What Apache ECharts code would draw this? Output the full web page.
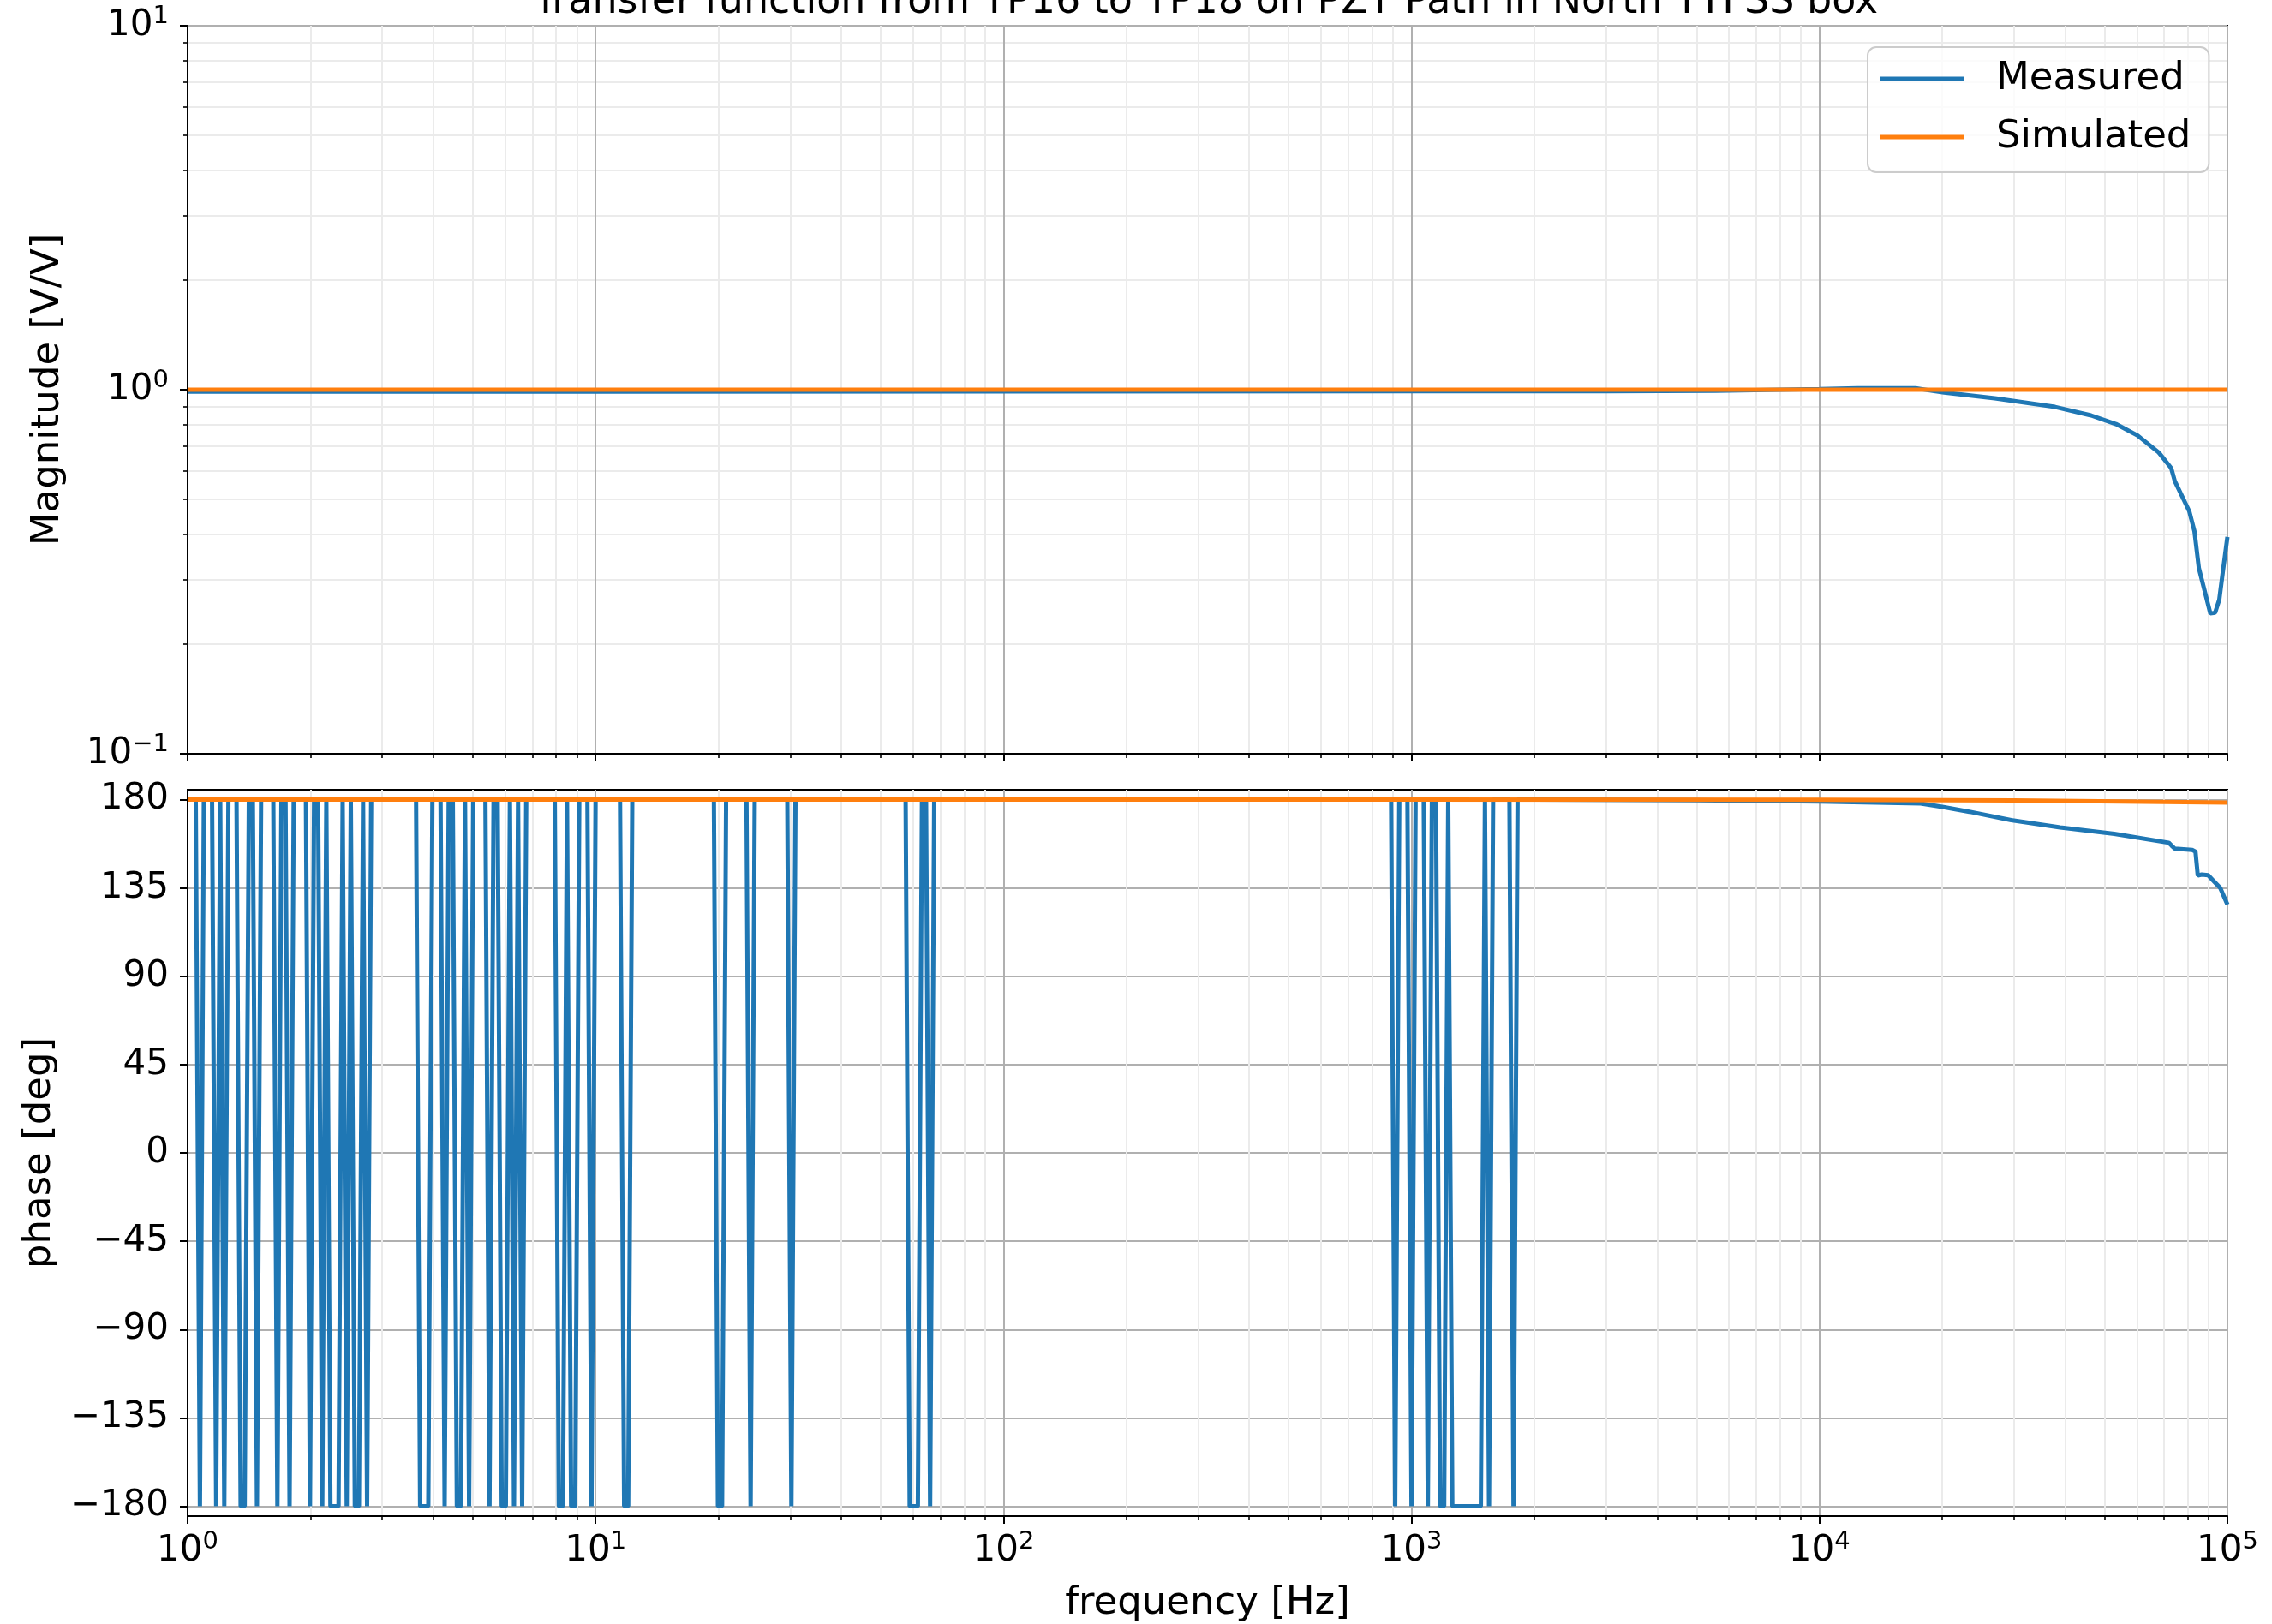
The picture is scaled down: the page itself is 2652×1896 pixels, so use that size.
<!DOCTYPE html>
<html>
<head>
<meta charset="utf-8">
<script src="https://cdn.jsdelivr.net/npm/echarts@6/dist/echarts.min.js"></script>
<style>
  html, body { margin: 0; padding: 0; background: #fff; }
  #chart { width: 2652px; height: 1896px; }
</style>
</head>
<body>
<div id="chart"></div>
<script>
// magnitude, measured
const magFreq = [1, 10, 100, 1000, 3000, 5560, 10000, 12400, 17200, 20200, 26900, 37800, 46300,
  53300, 60200, 67900, 72800, 74300, 80600, 83000, 85100, 90800, 93300, 95500, 97500, 100000];
const magMeasured = [0.988, 0.988, 0.989, 0.99, 0.991, 0.993, 1.004, 1.009, 1.009, 0.982, 0.947, 0.897, 0.85,
  0.805, 0.749, 0.672, 0.609, 0.561, 0.464, 0.409, 0.324, 0.243, 0.244, 0.265, 0.318, 0.394];
// magnitude, simulated
const magSimFreq = [1, 100000];
const magSimulated = [1, 1];

// phase, measured: sits on +180 and wraps down to -180 at these spots
// each dip = [last +180 point, first -180 point, last -180 point, next +180 point] in Hz
const phaseDips = [
  [1.047, 1.072, 1.072, 1.096], [1.148, 1.175, 1.175, 1.202], [1.202, 1.230, 1.230, 1.259],
  [1.318, 1.349, 1.380, 1.413], [1.445, 1.479, 1.479, 1.514], [1.622, 1.660, 1.660, 1.698],
  [1.738, 1.778, 1.778, 1.820], [1.950, 1.995, 1.995, 2.042], [2.089, 2.138, 2.138, 2.188],
  [2.188, 2.239, 2.344, 2.399], [2.399, 2.455, 2.455, 2.512], [2.512, 2.570, 2.630, 2.692],
  [2.692, 2.754, 2.754, 2.818], [3.631, 3.715, 3.890, 3.981], [4.169, 4.266, 4.266, 4.365],
  [4.467, 4.571, 4.677, 4.786], [4.786, 4.898, 4.898, 5.012], [5.370, 5.495, 5.495, 5.623],
  [5.754, 5.888, 6.026, 6.166], [6.166, 6.310, 6.310, 6.457], [6.457, 6.607, 6.607, 6.761],
  [7.943, 8.128, 8.318, 8.511], [8.511, 8.710, 8.913, 9.120], [9.550, 9.772, 9.772, 10.0],
  [11.48, 11.75, 12.02, 12.30], [19.50, 19.95, 20.42, 20.89], [23.44, 23.99, 23.99, 24.55],
  [29.51, 30.20, 30.20, 30.90], [57.54, 58.88, 61.66, 63.10], [64.57, 66.07, 66.07, 67.61],
  [891.3, 912.0, 912.0, 933.3], [977.2, 1000, 1000, 1023.3], [1071.5, 1096.5, 1096.5, 1122.0],
  [1148.2, 1174.9, 1202.3, 1230.3], [1230.3, 1258.9, 1479.1, 1513.6], [1513.6, 1548.8, 1548.8, 1584.9],
  [1737.8, 1778.3, 1778.3, 1819.7]
];
// high frequency roll-off of the measured phase
const phaseTailFreq = [2000, 5000, 10000, 17700, 20000, 23300, 29500, 38900, 52800, 71800, 73000,
  74300, 82000, 83500, 84600, 86500, 89700, 93000, 96000, 100000];
const phaseTailDeg = [180, 179.7, 179, 178, 176.3, 173.8, 169.5, 165.8, 162.5, 158, 156.5,
  155, 154.3, 153.5, 141.3, 141.8, 141.5, 138, 135, 126.5];
// phase, simulated
const phaseSimFreq = [1, 1000, 10000, 30000, 100000];
const phaseSimDeg = [180, 179.98, 179.85, 179.5, 178.5];
const phaseTicks = [-180, -135, -90, -45, 0, 45, 90, 135, 180];

const FONT = 'DejaVu Sans';
const BLUE = '#1f77b4';
const ORANGE = '#ff7f0e';
const LW = 5;

const zip = (xs, ys) => xs.map((x, i) => [x, ys[i]]);

let phaseMeasured = [[1, 180]];
phaseDips.forEach(d => {
  phaseMeasured.push([d[0], 180], [d[1], -180], [d[2], -180], [d[3], 180]);
});
phaseMeasured = phaseMeasured.concat(zip(phaseTailFreq, phaseTailDeg));

// 10^n style labels
const powLabel = v => {
  const e = Math.round(Math.log10(v));
  return '{b|10}{s|' + (e < 0 ? '\u2212' + (-e) : e) + '}';
};
const powRich = {
  b: { fontSize: 42, lineHeight: 50, fontFamily: FONT, color: '#000' },
  s: { fontSize: 29, lineHeight: 30, verticalAlign: 'top', fontFamily: FONT, color: '#000' }
};

const axisLine = { show: true, onZero: false, lineStyle: { color: '#000', width: 2 } };
const majorTick = { show: true, length: 9, lineStyle: { color: '#000', width: 2 } };
const minorTick = { show: true, splitNumber: 9, length: 5, lineStyle: { color: '#000', width: 1.6 } };
const majorGrid = { show: true, lineStyle: { color: '#b0b0b0', width: 2 } };
const minorGrid = { show: true, lineStyle: { color: '#ebebeb', width: 2 } };
const nameStyle = { fontSize: 45, fontFamily: FONT, color: '#000' };

function logX(gridIndex, withLabels) {
  return {
    type: 'log', logBase: 10, gridIndex: gridIndex, min: 1, max: 100000,
    axisLine: axisLine, axisTick: majorTick, minorTick: minorTick,
    splitLine: majorGrid, minorSplitLine: minorGrid,
    axisLabel: withLabels
      ? { show: true, margin: 16, formatter: powLabel, rich: powRich }
      : { show: false },
    name: withLabels ? 'frequency [Hz]' : '',
    nameLocation: 'middle', nameGap: 80, nameTextStyle: nameStyle
  };
}

function lineSeries(name, color, xi, data) {
  return {
    name: name, type: 'line', xAxisIndex: xi, yAxisIndex: xi,
    data: data, symbol: 'none', showSymbol: false,
    lineStyle: { color: color, width: LW }, itemStyle: { color: color }
  };
}

const chart = echarts.init(document.getElementById('chart'), null, { renderer: 'canvas' });

const option = {
  animation: false,
  backgroundColor: '#fff',
  textStyle: { fontFamily: FONT },
  title: {
    text: 'Transfer function from TP16 to TP18 on PZT Path in North TTFSS box',
    left: 623, top: -20, padding: 0,
    textStyle: { fontSize: 46, fontWeight: 'normal', fontFamily: FONT, color: '#000', lineHeight: 46 }
  },
  legend: {
    data: ['Measured', 'Simulated'],
    orient: 'vertical',
    left: 2180, top: 55,
    icon: 'rect',
    itemWidth: 98, itemHeight: 5, itemGap: 18,
    padding: [12, 21, 16, 15],
    backgroundColor: 'rgba(255,255,255,0.8)',
    borderColor: '#cccccc', borderWidth: 2, borderRadius: 10,
    textStyle: { fontSize: 45, lineHeight: 50, fontFamily: FONT, color: '#000', padding: [0, 0, 0, 32] }
  },
  grid: [
    { left: 219, top: 30, width: 2381, height: 850, show: true, borderColor: '#000', borderWidth: 2, backgroundColor: 'transparent' },
    { left: 219, top: 922, width: 2381, height: 849, show: true, borderColor: '#000', borderWidth: 2, backgroundColor: 'transparent' }
  ],
  xAxis: [logX(0, false), logX(1, true)],
  yAxis: [
    {
      type: 'log', logBase: 10, gridIndex: 0, min: 0.1, max: 10,
      axisLine: axisLine, axisTick: majorTick, minorTick: minorTick,
      splitLine: majorGrid, minorSplitLine: minorGrid,
      axisLabel: { show: true, margin: 22, formatter: powLabel, rich: powRich },
      name: 'Magnitude [V/V]', nameLocation: 'middle', nameRotate: 90, nameGap: 140,
      nameTextStyle: nameStyle
    },
    {
      type: 'value', gridIndex: 1, min: -185, max: 185,
      axisLine: axisLine,
      axisTick: Object.assign({ customValues: phaseTicks }, majorTick),
      splitLine: majorGrid,
      axisLabel: {
        show: true, margin: 22, customValues: phaseTicks, fontSize: 42, color: '#000', fontFamily: FONT,
        formatter: v => (v < 0 ? '\u2212' + Math.abs(v) : String(v))
      },
      name: 'phase [deg]', nameLocation: 'middle', nameRotate: 90, nameGap: 150,
      nameTextStyle: nameStyle
    }
  ],
  series: [
    lineSeries('Measured', BLUE, 0, zip(magFreq, magMeasured)),
    lineSeries('Simulated', ORANGE, 0, zip(magSimFreq, magSimulated)),
    lineSeries('Measured', BLUE, 1, phaseMeasured),
    lineSeries('Simulated', ORANGE, 1, zip(phaseSimFreq, phaseSimDeg))
  ]
};

chart.setOption(option);
window.onresize = chart.resize;
</script>
</body>
</html>
